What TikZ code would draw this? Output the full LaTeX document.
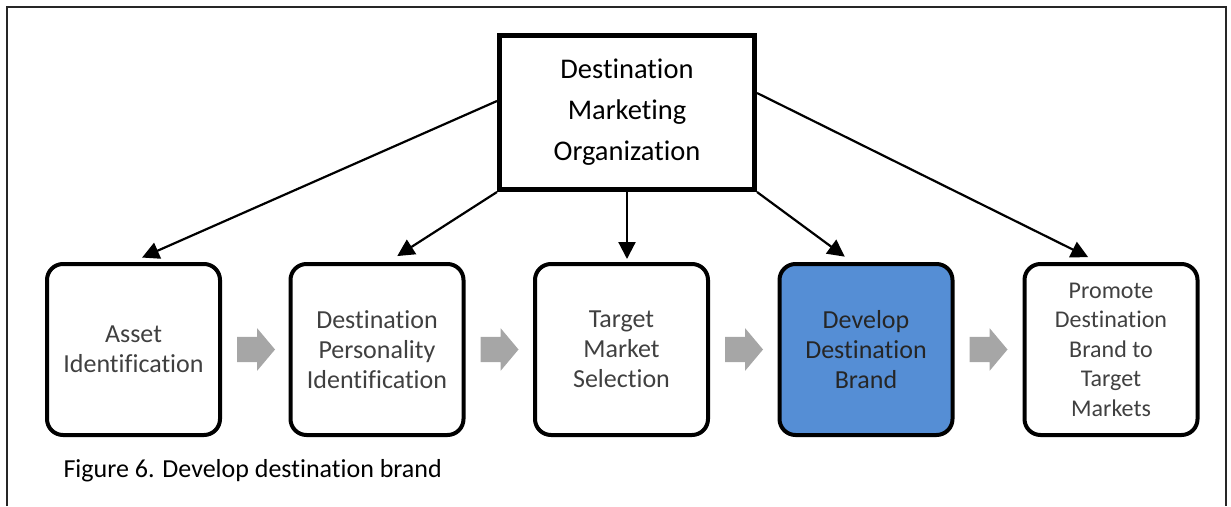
\documentclass[tikz,border=0pt]{standalone}
\usepackage{fontspec}
\setmainfont{Carlito}[Ligatures=NoCommon]
\usetikzlibrary{shapes.arrows, arrows.meta, positioning}

\definecolor{brandblue}{RGB}{85,142,213}
\definecolor{flowgray}{RGB}{166,166,166}
\definecolor{stagetext}{RGB}{64,64,64}

\tikzset{
  stage/.style={draw, line width=4pt, rounded corners=16pt, minimum width=173pt,
    minimum height=171pt, align=center, text=stagetext,
    font=\fontsize{26}{30}\selectfont},
  link/.style={line width=2.2pt, -{Triangle[length=17pt,width=17pt]}},
  flow/.style={single arrow, fill=flowgray, minimum height=38pt,
    single arrow head extend=8.5pt, single arrow tip angle=100,
    inner xsep=0pt, inner ysep=12.5pt, outer sep=0pt}
}

\begin{document}
\begin{tikzpicture}[x=1pt, y=-1pt]
  \useasboundingbox (0,0) rectangle (1231,506);

  % CADRE
  \draw[line width=1.5pt, black!85] (7,506) -- (7,7) -- (1226,7) -- (1226,506);

  % ORGANISATION
  \node[draw, line width=5pt, minimum width=255pt, minimum height=154pt, align=center,
        font=\fontsize{28.5}{41}\selectfont] (dmo) at (627,112.5)
        {Destination\\Marketing\\Organization};

  % ETAPES
  \node[stage] (asset) at (133.5,349.5) {Asset\\Identification};
  \node[stage] (personality) at (377,349.5) {Destination\\Personality\\Identification};
  \node[stage] (market) at (621.5,349.5) {Target\\Market\\Selection};
  \node[stage, fill=brandblue, text=black!85] (brand) at (866,349.5) {Develop\\Destination\\Brand};
  \node[stage, font=\fontsize{24}{29.5}\selectfont] (promote) at (1111,349.5)
        {Promote\\Destination\\Brand to\\Target\\Markets};

  % FLECHES GRISES
  \node[flow, right=15pt of asset] (f1) {};
  \node[flow, right=15pt of personality] (f2) {};
  \node[flow, right=15pt of market] (f3) {};
  \node[flow, right=15pt of brand] (f4) {};

  % FLECHES NOIRES
  \draw[link, shorten >=11pt] ([yshift=11.5pt]dmo.west) -- ([xshift=-1.5pt]asset.north);
  \draw[link, shorten >=11pt] (dmo.south west) -- ([xshift=11pt]personality.north);
  \draw[link, shorten >=3pt] (dmo.south) -- (dmo.south |- market.north);
  \draw[link, shorten >=9pt] (dmo.south east) -- ([xshift=-14pt]brand.north);
  \draw[link, shorten >=11pt] ([yshift=19.5pt]dmo.east) -- ([xshift=-13pt]promote.north);

  % LEGENDE
  \node[anchor=base west, font=\fontsize{26}{30}\selectfont] (caption) at (60,477)
        {Figure 6. Develop destination brand};
\end{tikzpicture}
\end{document}
